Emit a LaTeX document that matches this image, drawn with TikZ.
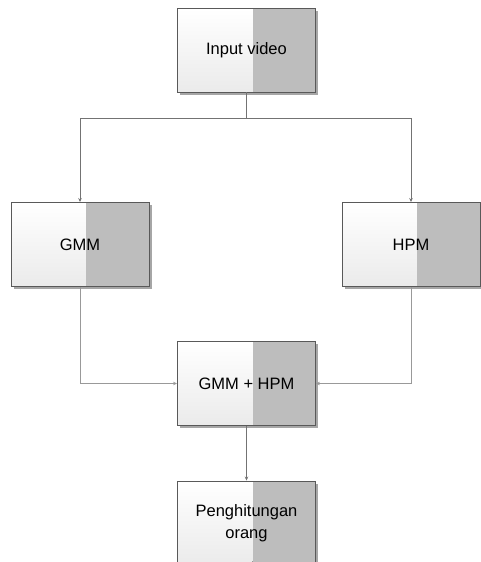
\documentclass[tikz,border=0pt]{standalone}
\usepackage{fontspec}
\setmainfont{Liberation Sans}
\usetikzlibrary{calc,shadows,arrows.meta}
\begin{document}
\begin{tikzpicture}[x=1pt,y=-1pt,
  flowbox/.style={draw=black!65, line width=0.9pt, minimum width=138pt, minimum height=84pt,
    inner sep=0pt, align=center, font=\fontsize{16.5}{22}\selectfont,
    drop shadow={shadow xshift=2.5pt, shadow yshift=-2.5pt, fill=black!35, opacity=1},
    path picture={
      \fill[top color=white, bottom color=black!8]
        (path picture bounding box.north west) rectangle
        ($(path picture bounding box.south west)!0.545!(path picture bounding box.south east)$);
      \fill[black!26]
        ($(path picture bounding box.north west)!0.545!(path picture bounding box.north east)$)
        rectangle (path picture bounding box.south east);
    }},
  conn/.style={draw=black!55, line width=0.8pt},
  arr/.style={conn, -{Stealth[length=4pt,width=3.5pt]}}
]
\useasboundingbox (0,0) rectangle (481,562);
\fill[white] (0,0) rectangle (481,562);
\node[flowbox] (in)  at (246.5,50)  {Input video};
\node[flowbox] (gmm) at (80,244.5)  {GMM};
\node[flowbox] (hpm) at (411,244.5) {HPM};
\node[flowbox] (mid) at (246.5,383.5) {GMM + HPM};
\node[flowbox] (cnt) at (246.5,523) {Penghitungan\\orang};
\draw[conn] (in.south) -- ++(0,26) coordinate (j);
\draw[arr] (j) -| (gmm.north);
\draw[arr] (j) -| (hpm.north);
\draw[arr, draw=black!40] (gmm.south) |- (mid.west);
\draw[arr, draw=black!40] (hpm.south) |- (mid.east);
\draw[arr] (mid.south) -- (cnt.north);
\end{tikzpicture}
\end{document}
